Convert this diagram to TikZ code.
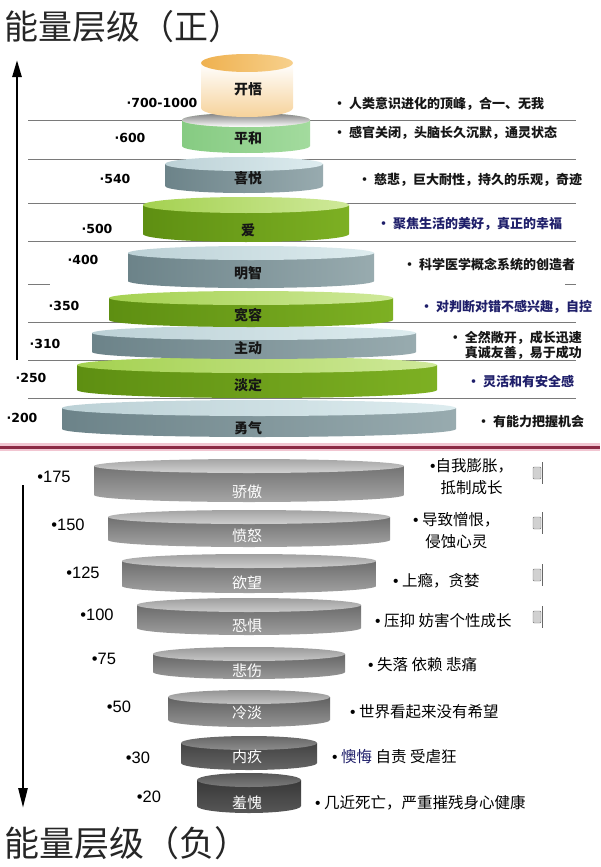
\documentclass[tikz,border=0pt]{standalone}
\usepackage{fontspec}
\setmainfont{Liberation Sans}
\newfontfamily\cjk{Noto Sans CJK SC}
\newfontfamily\numfont{DejaVu Sans}
\usetikzlibrary{arrows.meta}

\definecolor{slatedark}{HTML}{6C8389}
\definecolor{slatelight}{HTML}{E8F5F5}
\definecolor{slatemid}{HTML}{98ABAF}
\definecolor{slatetopL}{HTML}{BCD1D6}
\definecolor{slatetopR}{HTML}{DDECEF}
\definecolor{limedark}{HTML}{5E8F12}
\definecolor{limelight}{HTML}{A8D843}
\definecolor{limemid}{HTML}{7DB023}
\definecolor{limetopL}{HTML}{A4D150}
\definecolor{limetopR}{HTML}{CFE99A}
\definecolor{golddark}{HTML}{EFB14F}
\definecolor{goldlight}{HTML}{F7D08C}
\definecolor{goldbody}{HTML}{F6D29A}
\definecolor{mintdark}{HTML}{86CB82}
\definecolor{mintlight}{HTML}{CDEEC6}
\definecolor{mintmid}{HTML}{A3DB9E}
\definecolor{minttop}{HTML}{D6EFCC}
\definecolor{navytext}{HTML}{1F1F6A}
\definecolor{inktext}{HTML}{161616}
\definecolor{maroon}{HTML}{8C2A45}
\definecolor{blush}{HTML}{F2C6D2}
\definecolor{rulegray}{HTML}{7A7A7A}

\begin{document}
\begin{tikzpicture}[
    x=1pt, y=-1pt,
    % y runs downward here, so top color and bottom color trade places
    slate-body/.style={left color=slatedark, middle color=slatelight, right color=slatemid},
    slate-top/.style={left color=slatetopL, right color=slatetopR},
    lime-body/.style={left color=limedark, middle color=limelight, right color=limemid},
    lime-top/.style={left color=limetopL, right color=limetopR},
    gold-body/.style={top color=white, bottom color=goldbody},
    gold-top/.style={left color=golddark, right color=goldlight},
    mint-body/.style={left color=mintdark, middle color=mintlight, right color=mintmid},
    mint-top/.style={fill=minttop},
    disklabel/.style={font=\cjk\bfseries\fontsize{14}{16}\selectfont, text=inktext, inner sep=0pt},
    negdisklabel/.style={font=\cjk\fontsize{15}{17}\selectfont, text=white, inner sep=0pt},
    poslevel/.style={font=\numfont\bfseries\fontsize{12.5}{14}\selectfont, inner sep=0pt},
    neglevel/.style={font=\fontsize{16.5}{19}\selectfont, inner sep=0pt},
    posnote/.style={font=\cjk\bfseries\fontsize{13}{15}\selectfont, text=inktext, anchor=west, inner sep=0pt},
    negnote/.style={font=\cjk\fontsize{15.5}{22}\selectfont, text=black, anchor=west, inner sep=0pt},
    title/.style={font=\cjk\fontsize{34}{38}\selectfont, text=black!85, anchor=west, inner sep=0pt},
    levelrule/.style={rulegray, line width=0.8pt}
]
\useasboundingbox (0,0) rectangle (600,867);

\node[title] (postitle) at (4,27) {能量层级（正）};
\node[title, font=\cjk\fontsize{35}{38}\selectfont] (negtitle) at (4,843) {能量层级（负）};

% level rules behind the positive stack
\foreach \y in {120,159,203,241,322,360,398}
    \draw[levelrule] (28,\y) -- (576,\y);
\draw[levelrule] (28,284) -- (50,284);
\draw[levelrule] (565,284) -- (576,284);

% positive levels, from the base up
\foreach \k/\cx/\rx/\yt/\yb/\ry/\kind/\lab/\ly in {
    200/259/197/408/429/8/slate/勇气/428,
    250/257/180/365/390/8/lime/淡定/385,
    310/254/162/333/352/7/slate/主动/348,
    350/251/142/298/320/7/lime/宽容/315,
    400/251/123/253/281/7/slate/明智/273,
    500/246/103/205/234/8/lime/爱/230,
    540/244/79/164/186/7/slate/喜悦/178,
    600/246/64/120/146/7/mint/平和/138,
    1000/247/46/63/108/9/gold/开悟/89}
{
    \shade[\kind-body] (\cx-\rx,\yt) -- (\cx-\rx,\yb)
        arc[start angle=180, end angle=0, x radius=\rx, y radius=\ry] -- (\cx+\rx,\yt) -- cycle;
    \shade[\kind-top] (\cx,\yt) ellipse [x radius=\rx, y radius=\ry];
    \node[disklabel] (p\k) at (248,\ly) {\lab};
}

\foreach \k/\x/\y/\txt in {1000/162/103/700-1000, 600/130/138/600, 540/115/179/540,
        500/97/229/500, 400/83/260/400, 350/64/306/350, 310/45/344/310,
        250/31/378/250, 200/22/418/200}
    \node[poslevel] (v\k) at (\x,\y) {·\txt};

\node[posnote] (t1000) at (333,104) {· 人类意识进化的顶峰，合一、无我};
\node[posnote] (t600) at (333,133) {· 感官关闭，头脑长久沉默，通灵状态};
\node[posnote] (t540) at (358,180) {· 慈悲，巨大耐性，持久的乐观，奇迹};
\node[posnote, text=navytext] (t500) at (377,224) {· 聚焦生活的美好，真正的幸福};
\node[posnote] (t400) at (403,265) {· 科学医学概念系统的创造者};
\node[posnote, text=navytext] (t350) at (420,307) {· 对判断对错不感兴趣，自控};
\node[posnote, anchor=east, align=right] (t310) at (582,345) {· 全然敞开，成长迅速\\真诚友善，易于成功};
\node[posnote, text=navytext] (t250) at (467,382) {· 灵活和有安全感};
\node[posnote] (t200) at (477,422) {· 有能力把握机会};

\coordinate (upfoot) at (17,360);
\coordinate (uptip) at (17,60);
\draw[line width=2.6pt, -{Triangle[length=17pt, width=9pt]}] (upfoot) -- (uptip);

% divider
\draw[blush, line width=8pt] (0,447) -- (600,447);
\draw[maroon, line width=3pt] (0,447) -- (600,447);

% negative levels
\foreach \k/\rx/\yt/\yb/\tone/\hi/\lo/\lab/\ly in {
    175/155/466/495/18/35/55/骄傲/492,
    150/141/517/540/19/36/56/愤怒/536,
    125/127/561/586/20/37/57/欲望/583,
    100/112/605/628/21/38/58/恐惧/626,
    75/96/654/672/22/40/60/悲伤/671,
    50/81/697/720/24/42/62/冷淡/713,
    30/68/743/763/45/60/74/内疚/757,
    20/52/780/806/52/66/78/羞愧/803}
{
    \shade[top color=black!\lo, bottom color=black!\hi] (249-\rx,\yt) -- (249-\rx,\yb)
        arc[start angle=180, end angle=0, x radius=\rx, y radius=7] -- (249+\rx,\yt) -- cycle;
    \shade[top color=black!\hi, bottom color=black!\tone] (249,\yt) ellipse [x radius=\rx, y radius=7];
    \node[negdisklabel] (q\k) at (247,\ly) {\lab};
}

\foreach \k/\x/\y in {175/54/477, 150/68/525, 125/83/573, 100/97/615,
        75/104/659, 50/119/707, 30/138/758, 20/149/797}
    \node[neglevel] (n\k) at (\x,\y) {•\k};

\node[negnote, align=center] (s175) at (430,477) {{\rmfamily•}自我膨胀，\\抵制成长};
\node[negnote, align=center] (s150) at (413,531) {{\rmfamily•} 导致憎恨，\\侵蚀心灵};
\node[negnote] (s125) at (393,581) {{\rmfamily•} 上瘾，贪婪};
\node[negnote] (s100) at (375,621) {{\rmfamily•} 压抑 妨害个性成长};
\node[negnote] (s75) at (368,665) {{\rmfamily•} 失落 依赖 悲痛};
\node[negnote] (s50) at (350,712) {{\rmfamily•} 世界看起来没有希望};
\node[negnote] (s30) at (332,757) {{\rmfamily•} \textcolor{navytext}{懊悔} 自责 受虐狂};
\node[negnote] (s20) at (315,803) {{\rmfamily•} 几近死亡，严重摧残身心健康};

\foreach \y in {473,523,575,617} {
    \draw[black!55, fill=black!18, rounded corners=1pt] (533,\y-6) rectangle (541,\y+6);
    \draw[black!60, line width=0.8pt] (542,\y-11) -- (542,\y+11);
}

\coordinate (downfoot) at (23,485);
\coordinate (downtip) at (23,808);
\draw[line width=2.6pt, -{Triangle[length=20pt, width=9pt]}] (downfoot) -- (downtip);
\end{tikzpicture}
\end{document}
